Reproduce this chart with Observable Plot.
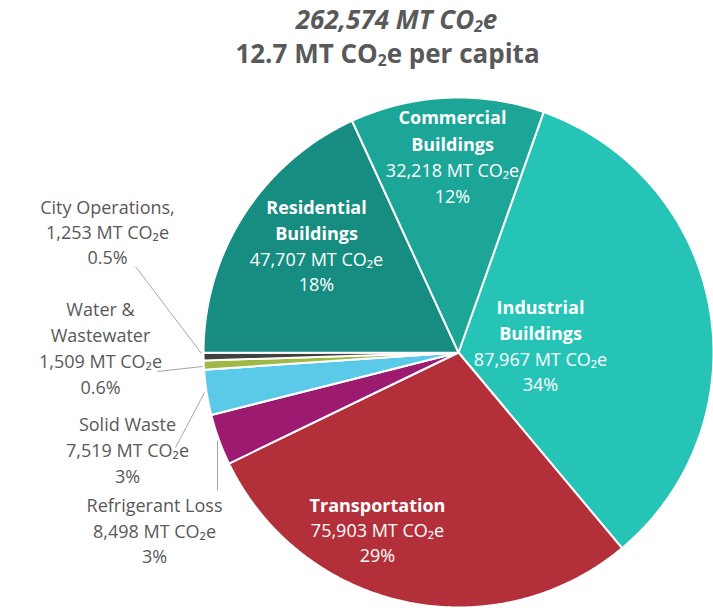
<!DOCTYPE html>
<html>
<head>
<meta charset="utf-8">
<script src="https://cdn.jsdelivr.net/npm/d3@7"></script>
<script src="https://cdn.jsdelivr.net/npm/@observablehq/plot@0.6"></script>
<style>
  body { margin: 0; background: #fff; font-family: "Open Sans", sans-serif; }
  #title { height: 80px; text-align: center; color: #595959; font-weight: bold; box-sizing: border-box; position: relative; }
  #title .l1 { position: absolute; left: 80px; right: 0; top: 5px; font-style: italic; font-size: 26px; line-height: 28px; }
  #title .l2 { position: absolute; left: 80px; right: 18px; top: 39px; font-size: 26px; line-height: 28px; }
  sub { font-size: 0.6em; vertical-align: -0.2em; line-height: 0; }
</style>
</head>
<body>
<div id="title">
  <div class="l1">262,574 MT CO<sub>2</sub>e</div>
  <div class="l2">12.7 MT CO<sub>2</sub>e per capita</div>
</div>
<div id="chart"></div>
<script>
// ---- data ----
const categories = ["Industrial Buildings", "Transportation", "Refrigerant Loss", "Solid Waste", "Water & Wastewater", "City Operations", "Residential Buildings", "Commercial Buildings"];
const values = [87967, 75903, 8498, 7519, 1509, 1253, 47707, 32218];
const nameLines = [["Industrial", "Buildings"], ["Transportation"], ["Refrigerant Loss"], ["Solid Waste"], ["Water &", "Wastewater"], ["City Operations,"], ["Residential", "Buildings"], ["Commercial", "Buildings"]];
const insideLabel = [true, true, false, false, false, false, true, true];

// ---- style / layout ----
const colors = ["#26c4b7", "#b3303a", "#9c1a70", "#5bc9e8", "#a0b845", "#404040", "#168d80", "#1ba698"];
const startDeg = 19.5;
const W = 713, H = 528, topOffset = 80;
const cx = 458, cy = 352, R = 255; // page px
const toX = px => (px - cx) / R;
const toY = py => (cy - py) / R;
// label first-line centres (page px) and line gaps
const labelAnchor = [[540, 308], [377, 506], [154, 506], [127, 425], [100, 310], [107, 208], [316, 208], [452, 118]];
const lineGap = [25.7, 25, 25.5, 26, 26, 25, 25.7, 26.3];
const leaders = [ // [x1,y1,x2,y2] page px
  [135, 266, 201, 353],
  [157, 371, 202, 366],
  [175, 447, 204, 392],
  [217, 440, 217, 490]
];

const total = d3.sum(values);
const fmt = d3.format(",");
const pctText = v => { const p = v / total * 100; return (p < 1 ? p.toFixed(1) : Math.round(p)) + "%"; };

// slice polygons
const slicePts = [];
let acc = 0;
values.forEach((v, i) => {
  const a0 = (startDeg + acc / total * 360) * Math.PI / 180;
  acc += v;
  const a1 = (startDeg + acc / total * 360) * Math.PI / 180;
  slicePts.push({cat: categories[i], x: 0, y: 0});
  const n = Math.max(2, Math.ceil((a1 - a0) / (0.5 * Math.PI / 180)));
  for (let k = 0; k <= n; k++) {
    const a = a0 + (a1 - a0) * k / n;
    slicePts.push({cat: categories[i], x: Math.sin(a), y: Math.cos(a)});
  }
  slicePts.push({cat: categories[i], x: 0, y: 0});
});

// text rows
const textRows = [];
categories.forEach((c, i) => {
  const lines = nameLines[i].map(t => ({t, bold: insideLabel[i]}));
  lines.push({t: fmt(values[i]) + " MT CO\u2082e", bold: false});
  lines.push({t: pctText(values[i]), bold: false});
  lines.forEach((l, k) => {
    textRows.push({
      text: l.t, bold: l.bold, inside: insideLabel[i],
      x: toX(labelAnchor[i][0]),
      y: toY(labelAnchor[i][1] + k * lineGap[i])
    });
  });
});
const leaderRows = leaders.map(d => ({x1: toX(d[0]), y1: toY(d[1]), x2: toX(d[2]), y2: toY(d[3])}));

const chart = Plot.plot({
  width: W, height: H,
  margin: 0,
  x: {domain: [toX(0), toX(W)], axis: null},
  y: {domain: [toY(topOffset + H), toY(topOffset)], axis: null},
  color: {domain: categories, range: colors},
  style: {fontFamily: "Open Sans, sans-serif", background: "white"},
  marks: [
    Plot.line(slicePts, {x: "x", y: "y", z: "cat", fill: "cat", stroke: "white", strokeWidth: 2, strokeLinejoin: "round", curve: "linear"}),
    Plot.link(leaderRows, {x1: "x1", y1: "y1", x2: "x2", y2: "y2", stroke: "#a6a6a6", strokeWidth: 1}),
    Plot.text(textRows.filter(d => d.bold), {x: "x", y: "y", text: "text", fill: "white", fontSize: 18, fontWeight: "bold"}),
    Plot.text(textRows.filter(d => !d.bold), {x: "x", y: "y", text: "text", fill: d => d.inside ? "white" : "#595959", fontSize: 18})
  ]
});
document.getElementById("chart").appendChild(chart);
</script>
</body>
</html>
